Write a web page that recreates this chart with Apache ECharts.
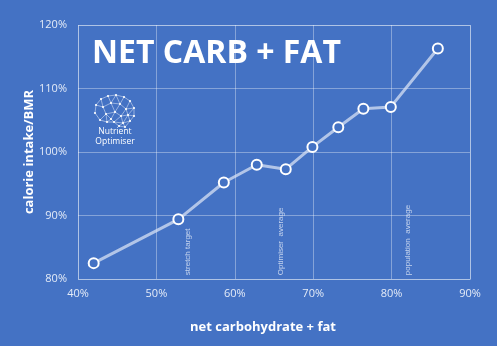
<!DOCTYPE html>
<html>
<head>
<meta charset="utf-8">
<script src="https://cdn.jsdelivr.net/npm/echarts@6/dist/echarts.min.js"></script>
<style>
  html, body { margin: 0; padding: 0; background: #4472C4; }
  #chart { width: 497px; height: 346px; }
</style>
</head>
<body>
<div id="chart"></div>
<script>
// Net carbohydrate + fat share vs calorie intake relative to BMR
const carbFat = [42.0, 52.8, 58.6, 62.8, 66.5, 69.9, 73.2, 76.4, 79.9, 85.9];
const calorieRatio = [82.5, 89.4, 95.2, 98.0, 97.3, 100.8, 103.9, 106.8, 107.1, 116.3];

// Reference markers written vertically above the x axis
const noteNames = ['stretch target', 'Optimiser  average', 'population  average'];
const noteX = [54.0, 65.9, 82.1];
const noteY = [80.6, 80.6, 80.6];

const xTicks = { min: 40, max: 90, step: 10 };
const yTicks = { min: 80, max: 120, step: 10 };

const FONT = '"Open Sans", "DejaVu Sans", sans-serif';
const GRID_COLOR = 'rgba(255,255,255,0.35)';
const TICK_COLOR = '#e4ebf7';

const chart = echarts.init(document.getElementById('chart'), null, { renderer: 'canvas' });

// Small network-style brain logo
function brainLogo(ox, oy) {
  const nodes = [
    [2, 18], [3, 10], [8, 4], [15, 1], [23, 0], [31, 2], [37, 6], [41, 13], [41, 21],
    [37, 26], [30, 28], [32, 32], [26, 31], [21, 27], [14, 27], [7, 25],
    [10, 12], [18, 8], [27, 9], [33, 14], [22, 17], [13, 19], [28, 21], [35, 20], [18, 24]
  ];
  const children = [];
  for (let i = 0; i < nodes.length; i++) {
    for (let j = i + 1; j < nodes.length; j++) {
      const dx = nodes[i][0] - nodes[j][0], dy = nodes[i][1] - nodes[j][1];
      if (dx * dx + dy * dy < 100) {
        children.push({
          type: 'line',
          shape: { x1: ox + nodes[i][0], y1: oy + nodes[i][1], x2: ox + nodes[j][0], y2: oy + nodes[j][1] },
          style: { stroke: 'rgba(255,255,255,0.75)', lineWidth: 0.6 }
        });
      }
    }
  }
  nodes.forEach(n => children.push({
    type: 'circle',
    shape: { cx: ox + n[0], cy: oy + n[1], r: 1.1 },
    style: { fill: '#ffffff' }
  }));
  children.push({
    type: 'text', x: ox + 22, y: oy + 37,
    style: { text: 'Nutrient', fill: '#ffffff', font: '8.5px ' + FONT, align: 'center', verticalAlign: 'middle' }
  });
  children.push({
    type: 'text', x: ox + 22, y: oy + 47,
    style: { text: 'Optimiser', fill: '#ffffff', font: '8.5px ' + FONT, align: 'center', verticalAlign: 'middle' }
  });
  return { type: 'group', children };
}

chart.setOption({
  backgroundColor: '#4472C4',
  animation: false,
  grid: { left: 78, right: 27, top: 25, bottom: 67 },
  xAxis: {
    type: 'value',
    min: xTicks.min, max: xTicks.max, interval: xTicks.step,
    axisLine: { show: false },
    axisTick: { show: false },
    splitLine: { lineStyle: { color: GRID_COLOR, width: 1 } },
    axisLabel: { color: TICK_COLOR, fontFamily: FONT, fontSize: 11, margin: 9, formatter: v => v + '%' },
    name: 'net carbohydrate + fat',
    nameLocation: 'middle',
    nameGap: 42,
    nameTextStyle: { color: '#ffffff', fontFamily: FONT, fontWeight: 'bold', fontSize: 13, padding: [0, 22, 0, 0] }
  },
  yAxis: {
    type: 'value',
    min: yTicks.min, max: yTicks.max, interval: yTicks.step,
    axisLine: { show: false },
    axisTick: { show: false },
    splitLine: { lineStyle: { color: GRID_COLOR, width: 1 } },
    axisLabel: { color: TICK_COLOR, fontFamily: FONT, fontSize: 11, margin: 11, formatter: v => v + '%' },
    name: 'calorie intake/BMR',
    nameLocation: 'middle',
    nameGap: 42,
    nameMoveOverlap: false,
    nameTextStyle: { color: '#ffffff', fontFamily: FONT, fontWeight: 'bold', fontSize: 13 }
  },
  graphic: [
    // plot frame
    {
      type: 'rect', shape: { x: 78.5, y: 25.5, width: 392, height: 254 },
      style: { fill: 'none', stroke: GRID_COLOR, lineWidth: 1 }, silent: true
    },
    {
      type: 'text', x: 92, y: 54,
      style: { text: 'NET CARB + FAT', fill: '#ffffff', font: 'bold 32px ' + FONT, verticalAlign: 'middle' }
    },
    brainLogo(93, 95)
  ],
  series: [
    {
      type: 'line',
      data: carbFat.map((x, i) => [x, calorieRatio[i]]),
      lineStyle: { color: 'rgba(220,228,245,0.72)', width: 3 },
      symbol: 'circle',
      symbolSize: 10,
      itemStyle: { color: '#4472C4', borderColor: '#ffffff', borderWidth: 2 },
      z: 3
    },
    {
      type: 'scatter',
      data: noteX.map((x, i) => [x, noteY[i], noteNames[i]]),
      symbolSize: 0,
      silent: true,
      label: {
        show: true,
        position: [0, 0],
        rotate: 90,
        align: 'left',
        verticalAlign: 'middle',
        color: '#e4ebf7',
        fontFamily: '"Liberation Sans", sans-serif',
        fontSize: 8,
        formatter: p => p.value[2]
      },
      z: 2
    }
  ]
});
</script>
</body>
</html>
